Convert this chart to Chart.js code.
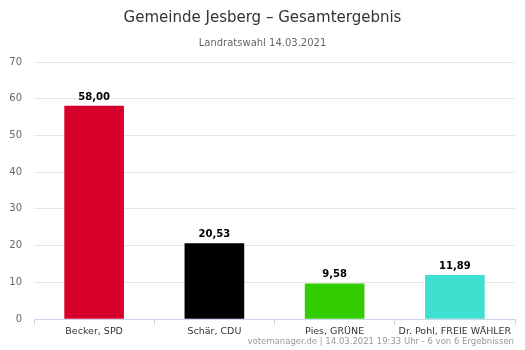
<!DOCTYPE html>
<html>
<head>
<meta charset="utf-8">
<script src="https://cdn.jsdelivr.net/npm/chart.js@4/dist/chart.umd.min.js"></script>
<style>
  html, body { margin: 0; padding: 0; background: #fff; }
  #wrap { width: 525px; height: 350px; position: relative; }
</style>
</head>
<body>
<div id="wrap"><canvas id="chart" width="525" height="350"></canvas></div>
<script>
// Daten
const kandidaten = ['Becker, SPD', 'Schär, CDU', 'Pies, GRÜNE', 'Dr. Pohl, FREIE WÄHLER'];
const prozente = [58.00, 20.53, 9.58, 11.89];
const farben = ['#d7002a', '#000000', '#33cc00', '#40e0d0'];
const yTicks = [0, 10, 20, 30, 40, 50, 60, 70];

const schrift = '"DejaVu Sans", Verdana, sans-serif';

// Werte über die Balken schreiben
const wertePlugin = {
    id: 'werte',
    afterDatasetsDraw(chart) {
        const ctx = chart.ctx;
        const meta = chart.getDatasetMeta(0);
        ctx.save();
        ctx.font = 'bold 10px ' + schrift;
        ctx.fillStyle = '#000';
        ctx.textAlign = 'center';
        ctx.textBaseline = 'bottom';
        meta.data.forEach((bar, i) => {
            const txt = prozente[i].toFixed(2).replace('.', ',');
            ctx.fillText(txt, bar.x, bar.y - 4);
        });
        ctx.restore();
    }
};

// Quellenangabe unten rechts
const creditsPlugin = {
    id: 'credits',
    afterDraw(chart) {
        const ctx = chart.ctx;
        ctx.save();
        ctx.font = '8.5px ' + schrift;
        ctx.fillStyle = '#999';
        ctx.textAlign = 'right';
        ctx.textBaseline = 'middle';
        ctx.fillText('votemanager.de | 14.03.2021 19:33 Uhr - 6 von 6 Ergebnissen', 514, 342);
        ctx.restore();
    }
};

new Chart(document.getElementById('chart'), {
    type: 'bar',
    data: {
        labels: kandidaten,
        datasets: [{
            data: prozente,
            backgroundColor: farben,
            borderWidth: 0,
            barThickness: 59
        }]
    },
    options: {
        responsive: false,
        animation: false,
        layout: { padding: { left: 0, right: 0, top: 0, bottom: 11 } },
        plugins: {
            legend: { display: false },
            tooltip: { enabled: false },
            title: {
                display: true,
                text: 'Gemeinde Jesberg – Gesamtergebnis',
                color: '#333333',
                font: { family: schrift, size: 15, weight: 'normal' },
                padding: { top: 9, bottom: 10 }
            },
            subtitle: {
                display: true,
                text: 'Landratswahl 14.03.2021',
                color: '#666666',
                font: { family: schrift, size: 10, weight: 'normal' },
                padding: { top: 0, bottom: 13 }
            }
        },
        scales: {
            y: {
                min: 0,
                max: 70,
                afterFit: s => { s.width = 34; },
                afterBuildTicks: s => { s.ticks = yTicks.map(v => ({ value: v })); },
                border: { display: false },
                grid: { color: '#e6e6e6', drawTicks: false },
                ticks: {
                    color: '#666666',
                    padding: 12,
                    font: { family: schrift, size: 10 }
                }
            },
            // leerer Rand rechts, damit der Titel mittig sitzt
            rechts: {
                position: 'right',
                min: 0,
                max: 70,
                afterFit: s => { s.width = 10; },
                border: { display: false },
                grid: { display: false },
                ticks: { display: false }
            },
            x: {
                afterFit: s => { s.height = 20; },
                border: { color: '#ccd6eb' },
                grid: {
                    offset: true,
                    drawOnChartArea: false,
                    drawTicks: true,
                    tickLength: 6,
                    color: '#ccd6eb'
                },
                ticks: {
                    color: '#333333',
                    padding: 1,
                    maxRotation: 0,
                    autoSkip: false,
                    font: { family: schrift, size: 9.5 }
                }
            }
        }
    },
    plugins: [wertePlugin, creditsPlugin]
});
</script>
</body>
</html>
